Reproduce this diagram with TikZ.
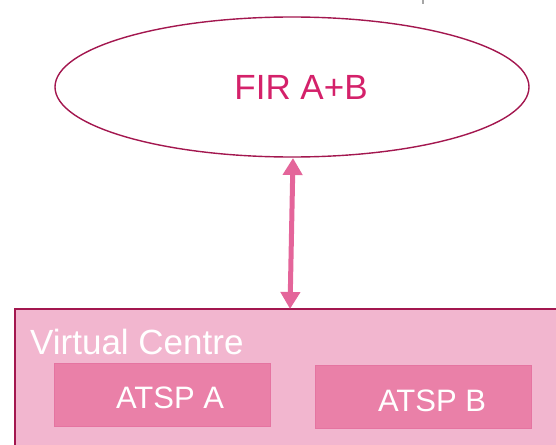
\documentclass[tikz,border=0pt]{standalone}
\usepackage{fontspec}
\setmainfont{Liberation Sans}
\usetikzlibrary{arrows.meta,shapes.geometric}
\definecolor{crimson}{HTML}{A3174F}
\definecolor{firtext}{HTML}{D4216A}
\definecolor{link}{HTML}{E4659A}
\definecolor{vcfill}{HTML}{F2B6CF}
\definecolor{atspfill}{HTML}{EA80A8}
\definecolor{atspline}{HTML}{E574A1}
\tikzset{
  atsp/.style={draw=atspline, line width=1pt, fill=atspfill, minimum width=216pt,
    minimum height=63pt, inner sep=0pt},
  atsptext/.style={text=white, inner sep=0pt, font=\fontsize{31}{31}\selectfont},
  linkarrow/.style={draw=link, line width=5pt,
    {Triangle[width=19pt,length=17pt]}-{Triangle[width=19pt,length=17pt]}}
}
\begin{document}
\begin{tikzpicture}[x=1pt,y=-1pt]
  \useasboundingbox (0,0) rectangle (556,444);
  % clipped mark at the top edge
  \draw[gray!70, line width=1.5pt] (423,0) -- (423,4);
  % federated FIR
  \node (fir) [draw=crimson, line width=1.4pt, ellipse, minimum width=474pt, minimum height=140pt,
    inner sep=0pt] at (292,87) {};
  \node (firlabel) [text=firtext, font=\fontsize{35}{35}\selectfont] at (301,87) {FIR A+B};
  % virtual centre
  \fill[vcfill] (15,309) rectangle (560,448);
  \draw[crimson, line width=1.6pt] (560,309) -- (15,309) -- (15,448);
  \coordinate (vctop) at (290,309);
  \node (vclabel) [anchor=base west, inner sep=0pt, text=white, font=\fontsize{35}{35}\selectfont] at (30,354) {Virtual Centre};
  \node (atspa) [atsp] at (162,394.5) {};
  \node (atspb) [atsp] at (423.5,396.5) {};
  \node (atspalabel) [atsptext, anchor=base] at (170,408) {ATSP A};
  \node (atspblabel) [atsptext, anchor=base] at (432,411) {ATSP B};
  % link
  \coordinate (firbot) at (293,158);
  \draw[linkarrow] (firbot) -- (vctop);
\end{tikzpicture}
\end{document}
